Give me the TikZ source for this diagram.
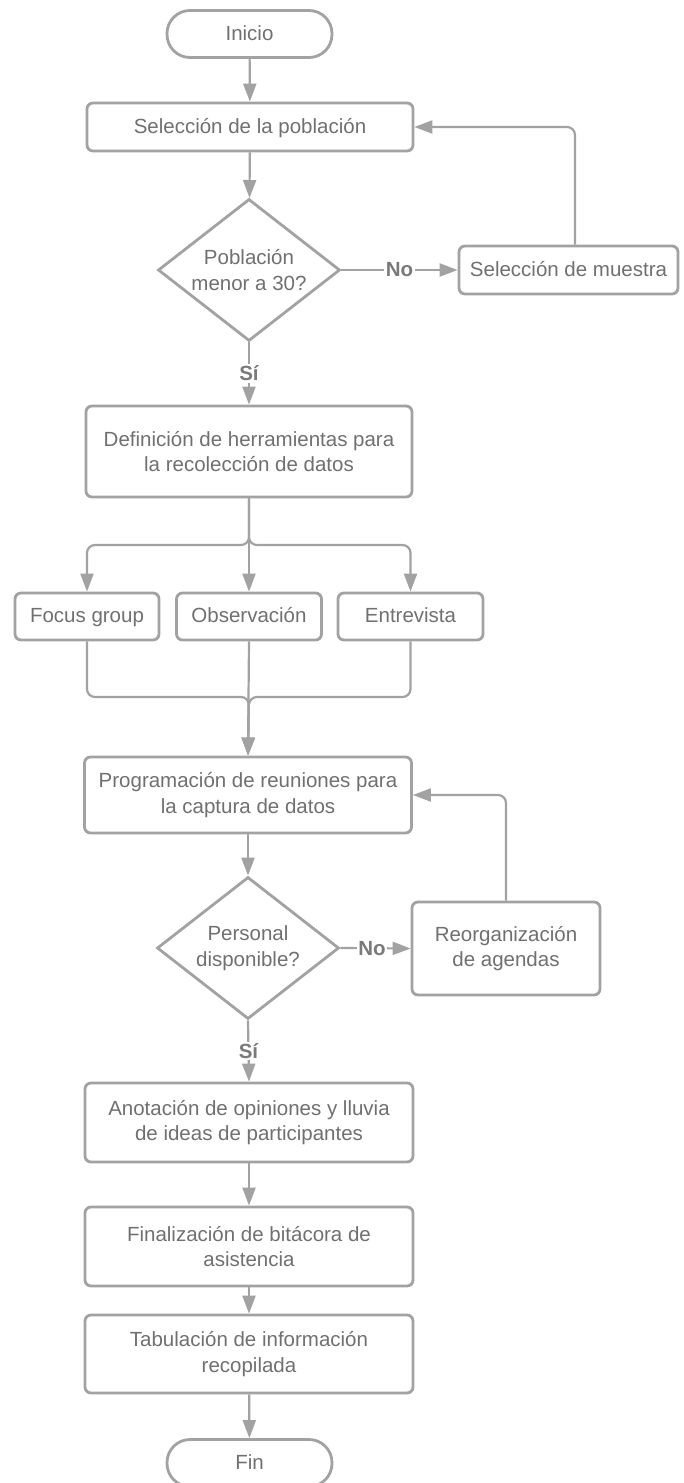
\documentclass[tikz,border=0pt]{standalone}
\usepackage{fontspec}
\setmainfont{Liberation Sans}
\usetikzlibrary{shapes.geometric,arrows.meta}

\definecolor{linegray}{HTML}{A2A2A2}
\definecolor{textgray}{HTML}{707070}
\definecolor{labelgray}{HTML}{7A7A7A}

\begin{document}
\begin{tikzpicture}[x=1pt,y=-1pt,
  font=\fontsize{20.5}{25.5}\selectfont,
  proc/.style={draw=linegray, line width=2.8pt, rounded corners=6pt, fill=white,
    text=textgray, align=center, inner sep=0pt},
  oneline/.style={text height=14pt, text depth=1.5pt},
  term/.style={draw=linegray, line width=2.8pt, rounded corners=23pt, fill=white,
    text=textgray, minimum width=165pt, minimum height=47pt, inner sep=0pt, oneline},
  decision/.style={draw=linegray, line width=2.8pt, diamond, fill=white,
    minimum width=182pt, minimum height=142pt, inner sep=0pt},
  dtext/.style={text=textgray, align=center, inner sep=0pt},
  line/.style={draw=linegray, line width=2.2pt},
  conn/.style={line, -{Triangle[length=18pt,width=13pt]}},
  lbl/.style={font=\fontsize{20.5}{24}\selectfont\bfseries, text=labelgray,
    fill=white, inner sep=1.5pt}
]
\useasboundingbox (0,0) rectangle (683,1483);

% main column
\node[term] (ini) at (249.5,34) {Inicio};
\node[proc, oneline, minimum width=326pt, minimum height=48pt] (pop) at (250,127) {Selección de la población};
\node[decision] (d1) at (249,270) {};
\node[dtext] (d1t) at (d1) {Población\\menor a 30?};
\node[proc, oneline, minimum width=219pt, minimum height=48pt] (mue) at (568.5,270) {Selección de muestra};
\node[proc, minimum width=326pt, minimum height=91pt] (def) at (249,451.5)
  {Definición de herramientas para\\la recolección de datos};

% data collection tools
\node[proc, oneline, minimum width=144pt, minimum height=47pt] (foc) at (87,616.5) {Focus group};
\node[proc, oneline, minimum width=145pt, minimum height=47pt] (obs) at (249,616.5) {Observación};
\node[proc, oneline, minimum width=145pt, minimum height=47pt] (ent) at (410.5,616.5) {Entrevista};

\node[proc, minimum width=327pt, minimum height=76pt] (prog) at (248,795)
  {Programación de reuniones para\\la captura de datos};
\node[decision] (d2) at (248,948) {};
\node[dtext] (d2t) at (d2) {Personal\\disponible?};
\node[proc, minimum width=188pt, minimum height=93pt] (reo) at (506,948.5)
  {Reorganización\\de agendas};
\node[proc, minimum width=328pt, minimum height=79pt] (ano) at (249,1122.5)
  {Anotación de opiniones y lluvia\\de ideas de participantes};
\node[proc, minimum width=328pt, minimum height=79pt] (fbit) at (249,1246.5)
  {Finalización de bitácora de\\asistencia};
\node[proc, minimum width=328pt, minimum height=78pt] (tab) at (249,1354)
  {Tabulación de información\\recopilada};
\node[term] (fin) at (249.5,1463) {Fin};

% helper points for branches and loops
\coordinate (loopA) at (575,127);
\coordinate (br) at (249,545);
\coordinate (mg) at (249,697);

% connectors
\draw[conn] (ini) -- (pop);
\draw[conn] (pop) -- (d1);
\draw[conn] (d1.east) -- node[lbl] {No} (mue.west);
\draw[conn, rounded corners=8pt] (loopA |- mue.north) -- (loopA) -- (pop.east);
\draw[conn] (d1.south) -- node[lbl, pos=0.5] {Sí} (def.north);

\draw[conn, rounded corners=8pt] (def.south) -- (br) -| (foc.north);
\draw[conn, rounded corners=8pt] (def.south) -- (br) -| (ent.north);
\draw[conn] (def.south) -- (obs.north);

\draw[conn, rounded corners=8pt] (foc.south) |- (mg) -- (prog.north);
\draw[conn, rounded corners=8pt] (ent.south) |- (mg) -- (prog.north);
\draw[conn] (obs.south) -- (prog.north);

\draw[conn] (prog) -- (d2);
\draw[conn] (d2.east) -- node[lbl, pos=0.45] {No} (reo.west);
\draw[conn, rounded corners=8pt] (reo.north) |- (prog.east);
\draw[conn] (d2.south) -- node[lbl] {Sí} (ano.north);
\draw[conn] (ano) -- (fbit);
\draw[conn] (fbit) -- (tab);
\draw[conn] (tab) -- (fin);
\end{tikzpicture}
\end{document}
